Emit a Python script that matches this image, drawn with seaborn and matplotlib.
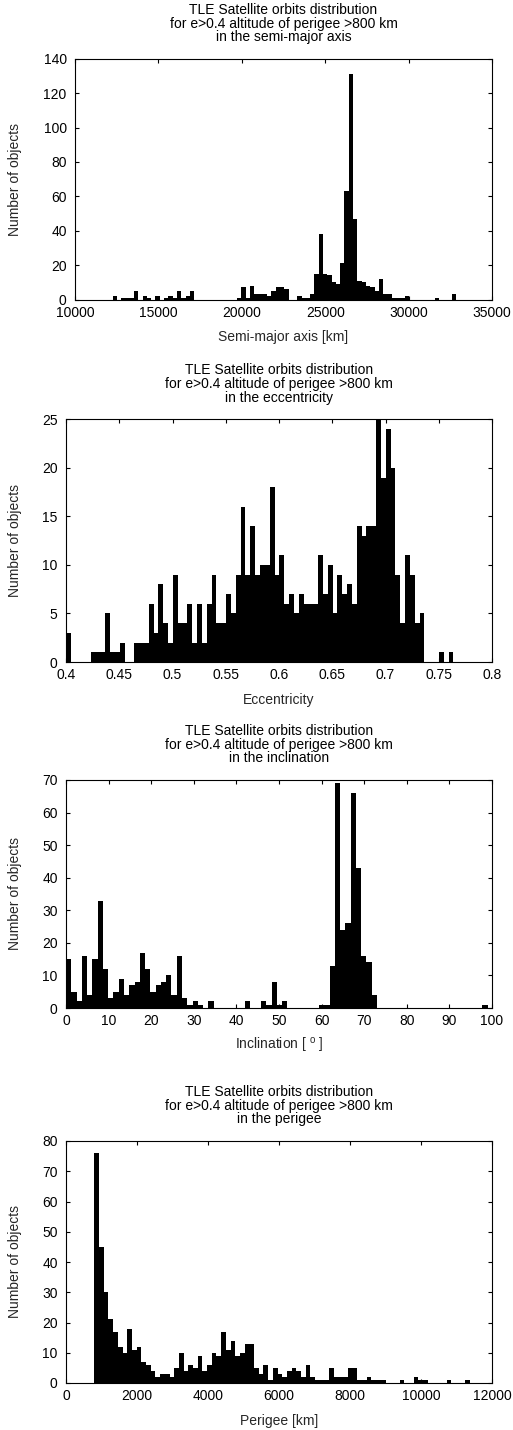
import numpy as np
import pandas as pd
import matplotlib
matplotlib.use("Agg")
import matplotlib.pyplot as plt
import matplotlib.transforms as mtransforms
import seaborn as sns

# ---------------- data ----------------
TITLE_LINE1 = "TLE Satellite orbits distribution"
TITLE_LINE2 = "for e>0.4 altitude of perigee >800 km"
SUBTITLES = ["in the semi-major axis", "in the eccentricity",
             "in the inclination", "in the perigee"]
XLABELS = ["Semi-major axis [km]", "Eccentricity",
           r"Inclination [ $^{\mathrm{o}}$ ]", "Perigee [km]"]
YLABEL = "Number of objects"

# semi-major axis histogram (80 bins)
sma_bin_start = 12250.0
sma_bin_width = 257.5
sma_counts = [2, 0, 1, 1, 1, 5, 0, 2, 1, 0,
              2, 0, 1, 2, 1, 5, 1, 2, 5, 0,
              0, 0, 0, 0, 0, 0, 0, 0, 0, 1,
              7, 1, 8, 3, 3, 3, 2, 5, 7, 7,
              6, 0, 0, 2, 1, 1, 3, 15, 38, 15,
              14, 10, 9, 21, 63, 131, 47, 11, 10, 8,
              7, 5, 12, 3, 3, 1, 1, 1, 2, 0,
              0, 0, 0, 0, 0, 1, 0, 0, 0, 3]

# eccentricity histogram (80 bins)
ecc_bin_start = 0.4006
ecc_bin_width = 0.004539
ecc_counts = [3, 0, 0, 0, 0, 1, 1, 1, 5, 1,
              1, 2, 0, 0, 2, 2, 2, 6, 3, 8,
              4, 2, 9, 4, 4, 6, 2, 6, 2, 6,
              9, 4, 4, 7, 5, 9, 16, 9, 14, 9,
              10, 10, 18, 9, 11, 6, 7, 5, 7, 6,
              6, 6, 11, 7, 10, 5, 9, 7, 8, 6,
              14, 13, 14, 14, 25, 19, 24, 20, 9, 4,
              11, 9, 4, 5, 0, 0, 0, 1, 0, 1]

# inclination histogram (80 bins)
inc_bin_start = 0.0
inc_bin_width = 1.2373
inc_counts = [15, 5, 2, 16, 4, 15, 33, 12, 3, 5,
              9, 4, 7, 8, 17, 12, 5, 7, 8, 10,
              4, 16, 3, 1, 2, 1, 0, 2, 0, 0,
              0, 0, 0, 0, 2, 0, 0, 2, 1, 8,
              1, 2, 0, 0, 0, 0, 0, 0, 1, 1,
              13, 69, 24, 26, 66, 43, 16, 14, 4, 0,
              0, 0, 0, 0, 0, 0, 0, 0, 0, 0,
              0, 0, 0, 0, 0, 0, 0, 0, 0, 1]

# perigee histogram (80 bins)
per_bin_start = 798.7
per_bin_width = 132.3
per_counts = [76, 45, 30, 21, 17, 12, 10, 18, 11, 12,
              7, 6, 4, 2, 3, 3, 2, 5, 10, 4,
              6, 5, 9, 4, 6, 10, 9, 17, 11, 14,
              9, 10, 13, 13, 5, 3, 6, 1, 5, 3,
              2, 4, 5, 4, 2, 6, 2, 1, 1, 1,
              5, 2, 2, 2, 5, 5, 1, 1, 2, 1,
              1, 1, 0, 0, 0, 1, 0, 0, 2, 1,
              1, 0, 0, 0, 0, 1, 0, 0, 0, 1]

sma_xticks = [10000, 15000, 20000, 25000, 30000, 35000]
sma_yticks = [0, 20, 40, 60, 80, 100, 120, 140]
ecc_xticks = [0.4, 0.45, 0.5, 0.55, 0.6, 0.65, 0.7, 0.75, 0.8]
ecc_yticks = [0, 5, 10, 15, 20, 25]
inc_xticks = [0, 10, 20, 30, 40, 50, 60, 70, 80, 90, 100]
inc_yticks = [0, 10, 20, 30, 40, 50, 60, 70]
per_xticks = [0, 2000, 4000, 6000, 8000, 10000, 12000]
per_yticks = [0, 10, 20, 30, 40, 50, 60, 70, 80]

# ---------------- style ----------------
sns.set_style("ticks")
plt.rcParams["font.family"] = ["Liberation Sans", "DejaVu Sans"]
plt.rcParams["mathtext.fontset"] = "custom"
plt.rcParams["mathtext.rm"] = "Liberation Sans"
plt.rcParams["mathtext.it"] = "Liberation Sans"
plt.rcParams["axes.edgecolor"] = "black"
plt.rcParams["axes.linewidth"] = 0.8

W, H = 513, 1430
fig = plt.figure(figsize=(W / 100, H / 100), dpi=100)
fig.patch.set_facecolor("white")

# axes boxes in pixels: left, right, top, bottom
boxes = [(75, 492, 58.7, 299.5),
         (66, 492, 419.3, 662.0),
         (66, 492, 780.0, 1008.0),
         (66, 492, 1141.0, 1383.0)]

panels = [
    (sma_bin_start, sma_bin_width, sma_counts, (10000, 35000), (0, 140),
     sma_xticks, [str(t) for t in sma_xticks], sma_yticks),
    (ecc_bin_start, ecc_bin_width, ecc_counts, (0.4, 0.8), (0, 25),
     ecc_xticks, [f"{t:g}" for t in ecc_xticks], ecc_yticks),
    (inc_bin_start, inc_bin_width, inc_counts, (0, 100), (0, 70),
     inc_xticks, [str(t) for t in inc_xticks], inc_yticks),
    (per_bin_start, per_bin_width, per_counts, (0, 12000), (0, 80),
     per_xticks, [str(t) for t in per_xticks], per_yticks),
]

FS_TEXT = 10
FS_TICK = 10

for i, (box, panel) in enumerate(zip(boxes, panels)):
    l, r, t, b = box
    start, width, counts, xlim, ylim, xticks, xlabels, yticks = panel
    ax = fig.add_axes([l / W, 1 - b / H, (r - l) / W, (b - t) / H])
    n = len(counts)
    edges = [start + width * k for k in range(n + 1)]
    df = pd.DataFrame({
        "value": [0.5 * (edges[k] + edges[k + 1]) for k in range(n)],
        "count": [float(c) for c in counts],
    })
    sns.histplot(data=df, x="value", weights="count", bins=edges, ax=ax,
                 color="black", alpha=1.0, linewidth=0)
    ax.set_xlim(*xlim)
    ax.set_ylim(*ylim)
    ax.set_xticks(xticks, labels=xlabels)
    ax.set_yticks(yticks, labels=[str(v) for v in yticks])
    ax.tick_params(direction="in", length=3, width=0.8, top=True, right=True,
                   labelsize=FS_TICK, colors="black")
    ax.tick_params(axis="x", pad=4.5)
    ax.tick_params(axis="y", pad=6)
    for s in ax.spines.values():
        s.set_visible(True)
        s.set_color("black")
        s.set_linewidth(0.8)

    # y label
    ax.set_ylabel(YLABEL, fontsize=FS_TEXT)
    ax.yaxis.set_label_coords((15 - l) / (r - l), 0.5)
    ax.yaxis.label.set_va("center")

    # x label
    ax.set_xlabel(XLABELS[i], fontsize=FS_TEXT)
    xl_off = -42
    ax.xaxis.set_label_coords(0.5, xl_off / (b - t))
    ax.xaxis.label.set_va("baseline")

    # three-line title
    for line, off in ((TITLE_LINE1, 45.0), (TITLE_LINE2, 31.0), (SUBTITLES[i], 17.5)):
        tr = mtransforms.offset_copy(ax.transAxes, fig=fig, x=0, y=off, units="dots")
        ax.text(0.5, 1.0, line, transform=tr, ha="center", va="baseline",
                fontsize=FS_TEXT, color="black")

fig.savefig("out.png", dpi=100, facecolor="white")
